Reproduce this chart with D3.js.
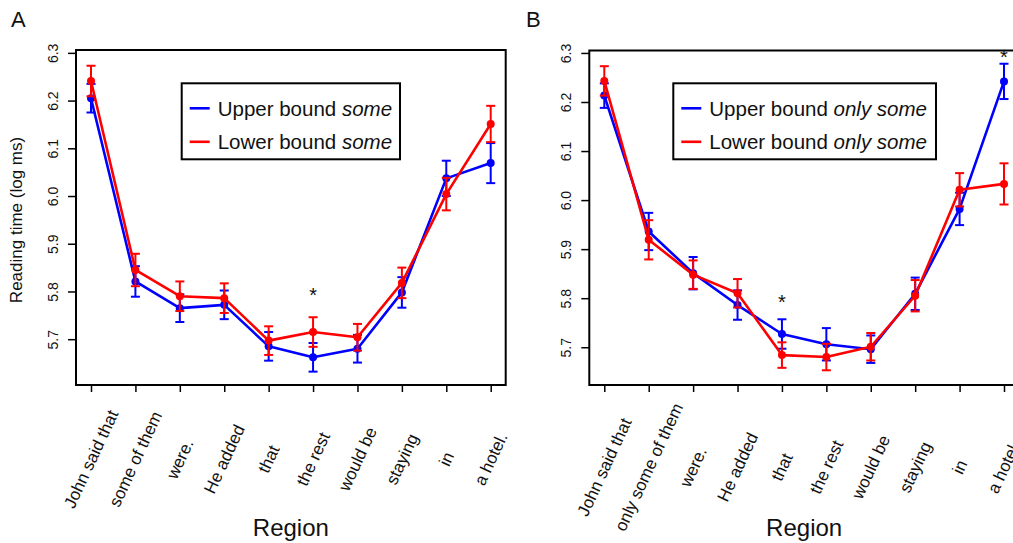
<!DOCTYPE html>
<html>
<head>
<meta charset="utf-8">
<script src="https://cdn.jsdelivr.net/npm/d3@7"></script>
<style>
  body { margin: 0; background: #fff; }
  svg { display: block; font-family: "Liberation Sans", Arial, Helvetica, sans-serif; }
</style>
</head>
<body>
<svg id="chart" width="1013" height="543"></svg>
<script>
// Regions (x categories)
const regionsA = ["John said that", "some of them", "were.", "He added", "that",
                  "the rest", "would be", "staying", "in", "a hotel."];
const regionsB = ["John said that", "only some of them", "were.", "He added", "that",
                  "the rest", "would be", "staying", "in", "a hotel."];
const yTicks = [5.7, 5.8, 5.9, 6.0, 6.1, 6.2, 6.3];

// Panel A: mean log reading times and error half-widths
const upperA   = [6.205, 5.821, 5.765, 5.772, 5.685, 5.662, 5.680, 5.798, 6.037, 6.069];
const upperSeA = [0.030, 0.032, 0.029, 0.030, 0.030, 0.030, 0.029, 0.032, 0.037, 0.042];
const lowerA   = [6.241, 5.845, 5.790, 5.786, 5.697, 5.715, 5.704, 5.818, 6.004, 6.151];
const lowerSeA = [0.032, 0.034, 0.031, 0.031, 0.030, 0.031, 0.028, 0.032, 0.034, 0.038];

// Panel B
const upperB   = [6.213, 5.936, 5.851, 5.786, 5.727, 5.706, 5.696, 5.809, 5.982, 6.242];
const upperSeB = [0.025, 0.038, 0.033, 0.030, 0.030, 0.033, 0.028, 0.033, 0.033, 0.036];
const lowerB   = [6.243, 5.919, 5.848, 5.810, 5.684, 5.680, 5.701, 5.805, 6.021, 6.033];
const lowerSeB = [0.030, 0.040, 0.029, 0.029, 0.026, 0.027, 0.028, 0.032, 0.034, 0.042];

// Significance marks
const starsA = [{ region: "the rest", value: 5.798 }];
const starsB = [{ region: "that", value: 5.799 }, { region: "a hotel.", value: 6.297 }];

const legendLabels = ["Upper bound ", "Lower bound "];
const legendEmphA = "some";
const legendEmphB = "only some";

const BLUE = "#0000ff";
const RED = "#ff0000";

const svg = d3.select("#chart");

function drawPanel(cfg) {
    const g = svg.append("g");
    const { left, right, top, bottom } = cfg.box;

    const x = d3.scalePoint()
        .domain(cfg.regions)
        .range([left + 15, right - 15]);
    const y = d3.scaleLinear()
        .domain(cfg.yDomain)
        .range([bottom, top]);

    // Box
    g.append("rect")
        .attr("x", left).attr("y", top)
        .attr("width", right - left).attr("height", bottom - top)
        .attr("fill", "none").attr("stroke", "#000").attr("stroke-width", 2);

    // Y axis (drop d3's default 10px sans-serif so our own font applies)
    const yAxis = g.append("g")
        .attr("transform", `translate(${left},0)`)
        .call(d3.axisLeft(y).tickValues(yTicks).tickFormat(d3.format(".1f")).tickSize(8))
        .attr("font-family", null)
        .attr("font-size", 14);
    yAxis.select(".domain").remove();
    yAxis.selectAll(".tick line").attr("stroke-width", 1.5);
    yAxis.selectAll(".tick text")
        .attr("fill", "#111")
        .attr("text-anchor", "middle")
        .attr("transform", "rotate(-90)")
        .attr("x", 0)
        .attr("y", -23)
        .attr("dy", "0.35em");

    // X axis ticks
    const xAxis = g.append("g")
        .attr("transform", `translate(0,${bottom})`)
        .call(d3.axisBottom(x).tickSize(7).tickFormat(""));
    xAxis.select(".domain").remove();
    xAxis.selectAll(".tick line").attr("stroke-width", 1.5);

    // Rotated region labels
    g.append("g").selectAll("text")
        .data(cfg.regions)
        .join("text")
        .attr("transform", d => `translate(${x(d)},${cfg.labelY}) rotate(-65)`)
        .attr("text-anchor", "middle")
        .attr("dy", "0.35em")
        .attr("font-size", 17)
        .attr("fill", "#111")
        .text(d => d);

    // Axis title
    g.append("text")
        .attr("x", (left + right) / 2)
        .attr("y", 536)
        .attr("text-anchor", "middle")
        .attr("font-size", 24)
        .attr("fill", "#111")
        .text("Region");

    // Series
    const series = [
        { values: cfg.upper, se: cfg.upperSe, color: BLUE },
        { values: cfg.lower, se: cfg.lowerSe, color: RED }
    ];
    const line = d3.line()
        .x((d, i) => x(cfg.regions[i]))
        .y(d => y(d));

    series.forEach(s => {
        const sg = g.append("g");
        sg.append("path")
            .datum(s.values)
            .attr("d", line)
            .attr("fill", "none")
            .attr("stroke", s.color)
            .attr("stroke-width", 2.6)
            .attr("stroke-linejoin", "round");

        const bars = sg.selectAll("g.err")
            .data(s.values.map((v, i) => ({ r: cfg.regions[i], v: v, e: s.se[i] })))
            .join("g")
            .attr("class", "err")
            .attr("stroke", s.color)
            .attr("stroke-width", 2);
        bars.append("line")
            .attr("x1", d => x(d.r)).attr("x2", d => x(d.r))
            .attr("y1", d => y(d.v - d.e)).attr("y2", d => y(d.v + d.e));
        bars.append("line")
            .attr("x1", d => x(d.r) - 4.5).attr("x2", d => x(d.r) + 4.5)
            .attr("y1", d => y(d.v + d.e)).attr("y2", d => y(d.v + d.e));
        bars.append("line")
            .attr("x1", d => x(d.r) - 4.5).attr("x2", d => x(d.r) + 4.5)
            .attr("y1", d => y(d.v - d.e)).attr("y2", d => y(d.v - d.e));

        sg.selectAll("circle")
            .data(s.values)
            .join("circle")
            .attr("cx", (d, i) => x(cfg.regions[i]))
            .attr("cy", d => y(d))
            .attr("r", 4)
            .attr("fill", s.color);
    });

    // Stars
    g.selectAll("text.star")
        .data(cfg.stars)
        .join("text")
        .attr("class", "star")
        .attr("x", d => x(d.region))
        .attr("y", d => y(d.value) + 10)
        .attr("text-anchor", "middle")
        .attr("font-size", 20)
        .attr("fill", "#111")
        .text("*");

    // Legend
    const lg = g.append("g");
    const L = cfg.legend;
    lg.append("rect")
        .attr("x", L.x).attr("y", L.y)
        .attr("width", L.w).attr("height", 76)
        .attr("fill", "#fff").attr("stroke", "#000").attr("stroke-width", 2);
    const items = [
        { label: legendLabels[0], color: BLUE },
        { label: legendLabels[1], color: RED }
    ];
    items.forEach((it, i) => {
        const cy = L.y + 25 + i * 33.5;
        lg.append("line")
            .attr("x1", L.x + 8).attr("x2", L.x + 28)
            .attr("y1", cy).attr("y2", cy)
            .attr("stroke", it.color).attr("stroke-width", 2.6);
        const t = lg.append("text")
            .attr("x", L.x + 36)
            .attr("y", cy)
            .attr("dy", "0.36em")
            .attr("font-size", 20.5)
            .attr("fill", "#111");
        t.append("tspan").text(it.label);
        t.append("tspan").attr("font-style", "italic").text(cfg.emph);
    });

    // Panel letter
    g.append("text")
        .attr("x", cfg.letterX)
        .attr("y", 27)
        .attr("font-size", 22)
        .attr("fill", "#111")
        .text(cfg.letter);

    return { x, y };
}

drawPanel({
    letter: "A", letterX: 11,
    box: { left: 76, right: 505.7, top: 50, bottom: 385 },
    yDomain: [5.604, 6.306],
    regions: regionsA,
    upper: upperA, upperSe: upperSeA,
    lower: lowerA, lowerSe: lowerSeA,
    stars: starsA,
    labelY: 459,
    emph: legendEmphA,
    legend: { x: 181.7, y: 83.3, w: 218.3 }
});

drawPanel({
    letter: "B", letterX: 526,
    box: { left: 589.3, right: 1019, top: 50.5, bottom: 385 },
    yDomain: [5.623, 6.305],
    regions: regionsB,
    upper: upperB, upperSe: upperSeB,
    lower: lowerB, lowerSe: lowerSeB,
    stars: starsB,
    labelY: 467,
    emph: legendEmphB,
    legend: { x: 673.3, y: 83.3, w: 262.7 }
});

// Y axis title (panel A only)
svg.append("text")
    .attr("transform", "translate(16,220) rotate(-90)")
    .attr("text-anchor", "middle")
    .attr("dy", "0.35em")
    .attr("font-size", 17)
    .attr("fill", "#111")
    .text("Reading time (log ms)");
</script>
</body>
</html>
